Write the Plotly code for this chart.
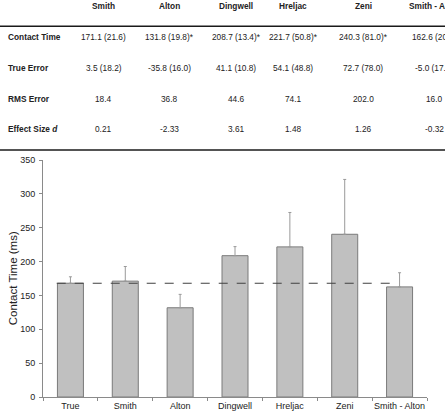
import plotly.graph_objects as go

# ---- data ----
categories = ["True", "Smith", "Alton", "Dingwell", "Hreljac", "Zeni", "Smith - Alton"]
contact_mean = [168.0, 171.1, 131.8, 208.7, 221.7, 240.3, 162.6]
contact_sd = [9.5, 21.6, 19.8, 13.4, 50.8, 81.0, 20.9]
true_value = 168.0

methods = ["Smith", "Alton", "Dingwell", "Hreljac", "Zeni", "Smith - Alton"]
ct_mean = [171.1, 131.8, 208.7, 221.7, 240.3, 162.6]
ct_sd = [21.6, 19.8, 13.4, 50.8, 81.0, 20.9]
ct_sig = [False, True, True, True, True, False]
te_mean = [3.5, -35.8, 41.1, 54.1, 72.7, -5.0]
te_sd = [18.2, 16.0, 10.8, 48.8, 78.0, 17.5]
rms_err = [18.4, 36.8, 44.6, 74.1, 202.0, 16.0]
effect_d = [0.21, -2.33, 3.61, 1.48, 1.26, -0.32]
row_labels = ["Contact Time", "True Error", "RMS Error", "Effect Size <i>d</i>"]

# ---- layout geometry (pixels) ----
W, H = 445, 419
L, R, T, B = 43, 18, 160, 22
pw, ph = W - L - R, H - T - B
FONT = "Liberation Sans, Arial, sans-serif"


def px_x(x):
    return (x - L) / pw


def px_y(y):
    return (H - B - y) / ph


fig = go.Figure()
fig.add_trace(go.Bar(
    x=categories, y=contact_mean,
    marker=dict(color="#c0c0c0", line=dict(color="#7a7a7a", width=1)),
    error_y=dict(type="data", array=contact_sd, arrayminus=[0] * len(contact_sd),
                 symmetric=False, color="#9a9a9a", thickness=1, width=1.5),
    hoverinfo="skip",
))

fig.add_shape(type="line", xref="x", yref="y", x0=-0.25, x1=5.95,
              y0=true_value, y1=true_value,
              line=dict(color="#404040", width=1.2, dash="dash"))

ann = []
# y-axis title
ann.append(dict(text="Contact Time (ms)", xref="paper", yref="paper",
                x=px_x(12.7), y=0.5, textangle=-90, showarrow=False,
                xanchor="center", yanchor="middle",
                font=dict(family=FONT, size=11.5, color="#222")))

# table
col_x = [103.5, 169.5, 236, 293, 363, 434]
row_y = [37.3, 68.3, 99, 129.3]
header_y = 6
tf = dict(family=FONT, size=8.3, color="#222")
for i, m in enumerate(methods):
    ann.append(dict(text="<b>%s</b>" % m, xref="paper", yref="paper",
                    x=px_x(col_x[i]), y=px_y(header_y), showarrow=False,
                    xanchor="center", yanchor="middle", font=tf))
    vals = [
        "%.1f (%.1f)%s" % (ct_mean[i], ct_sd[i], "*" if ct_sig[i] else ""),
        "%.1f (%.1f)" % (te_mean[i], te_sd[i]),
        "%.1f" % rms_err[i],
        "%.2f" % effect_d[i],
    ]
    for j, v in enumerate(vals):
        ann.append(dict(text=v, xref="paper", yref="paper",
                        x=px_x(col_x[i]), y=px_y(row_y[j]), showarrow=False,
                        xanchor="center", yanchor="middle", font=tf))
for j, lab in enumerate(row_labels):
    ann.append(dict(text="<b>%s</b>" % lab, xref="paper", yref="paper",
                    x=px_x(6), y=px_y(row_y[j]), showarrow=False,
                    xanchor="left", yanchor="middle", font=tf))

for yy in [26.3, 150]:
    fig.add_shape(type="line", xref="paper", yref="paper",
                  x0=px_x(0), x1=px_x(W), y0=px_y(yy), y1=px_y(yy),
                  line=dict(color="#1a1a1a", width=1.5))

fig.update_layout(
    width=W, height=H,
    margin=dict(l=L, r=R, t=T, b=B, pad=0),
    paper_bgcolor="white", plot_bgcolor="white",
    showlegend=False, bargap=0.526,
    font=dict(family=FONT, size=9, color="#222"),
    annotations=ann,
    xaxis=dict(type="category", range=[-0.5, 6.5], showline=True, linecolor="#8a8a8a",
               linewidth=1, ticks="outside", tickson="boundaries", ticklen=3,
               tickangle=0, automargin=False,
               tickcolor="#8a8a8a", showgrid=False, tickfont=dict(size=9, color="#222")),
    yaxis=dict(range=[0, 350], dtick=50, showline=True, linecolor="#8a8a8a", linewidth=1,
               ticks="outside", ticklen=3, tickcolor="#8a8a8a", showgrid=False,
               automargin=False, ticklabelstandoff=2,
               zeroline=False, tickfont=dict(size=9, color="#222")),
)

fig.write_html("out.html")
